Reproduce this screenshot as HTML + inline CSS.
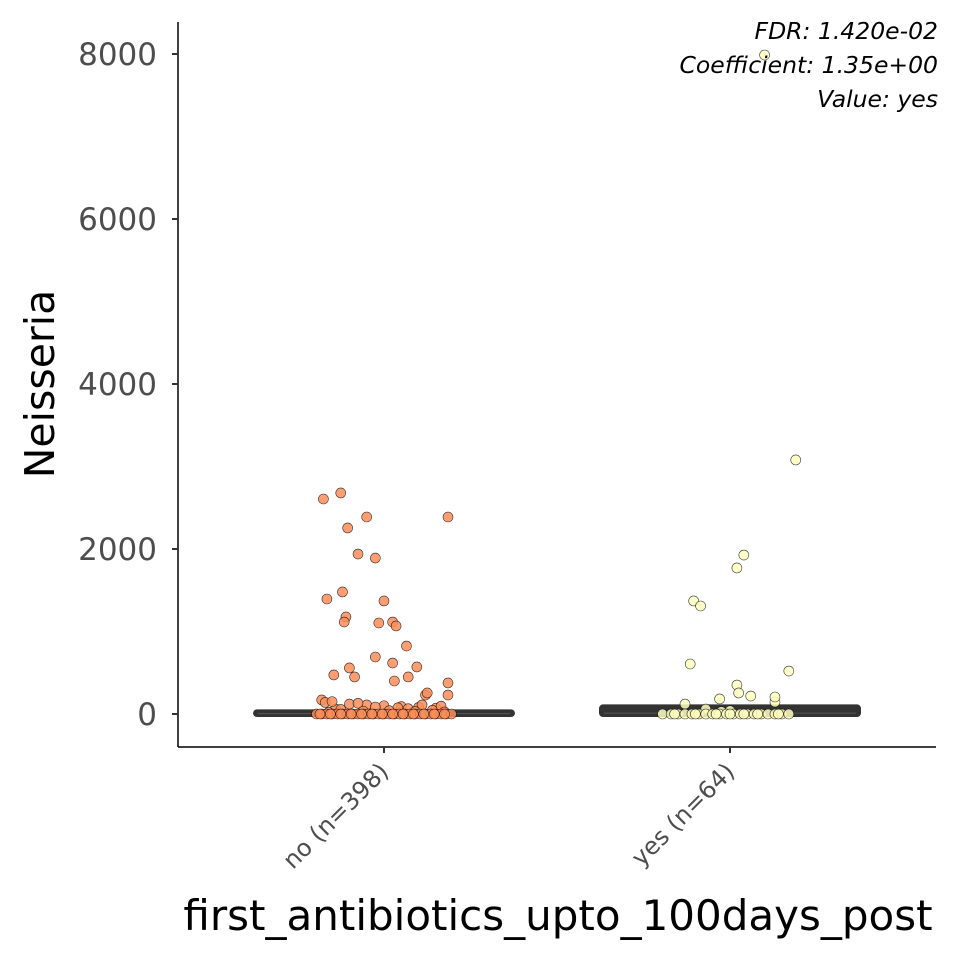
<!DOCTYPE html>
<html><head><meta charset="utf-8"><style>
html,body{margin:0;padding:0;background:#fff;}
svg{display:block;font-family:"DejaVu Sans","Liberation Sans",sans-serif;}
</style></head><body>
<svg id="chart" width="960" height="960" viewBox="0 0 960 960" xmlns="http://www.w3.org/2000/svg">
<rect width="960" height="960" fill="#fff"/>
<g id="boxes"></g>
<g id="points"></g>
<g id="axes"></g>
<text x="938" y="39" text-anchor="end" font-size="23.5" font-style="italic" fill="#000">FDR: 1.420e-02</text>
<text x="938" y="73" text-anchor="end" font-size="23.5" font-style="italic" fill="#000">Coefficient: 1.35e+00</text>
<text x="938" y="107" text-anchor="end" font-size="23.5" font-style="italic" fill="#000">Value: yes</text>
<text transform="translate(54,384) rotate(-90)" text-anchor="middle" font-size="41" fill="#000">Neisseria</text>
<text x="558" y="930" text-anchor="middle" font-size="42" fill="#000">first_antibiotics_upto_100days_post</text>
</svg>
<script>
const categories = ["no (n=398)", "yes (n=64)"];
const yTicks = [0, 2000, 4000, 6000, 8000];
// box stats: [min, q1, median, q3, max-whisker]
const boxNo = [0, 0, 5, 20, 60];
const boxYes = [0, 0, 10, 80, 180];
const noValues = [2606,2679,2388,2255,2388,1939,1890,1394,1479,1370,1176,1115,1103,1115,1067,824,691,618,558,570,473,449,400,449,376,230,230,255,
 170,140,120,110,100,90,80,70,60,150,130,110,95,85,75,65,55,45,40,35,30,25,20,
 0,0,0,0,0,0,0,0,0,0,0,0,0,0,0,0,0,0,0,0,0,0,0,0,0,0,0,0,0,0,0,0,0,0,0,0,0,0,0,0];
const noJitter = [-0.35,-0.25,-0.1,-0.21,0.37,-0.15,-0.05,-0.33,-0.24,0.0,-0.22,-0.23,-0.03,0.05,0.07,0.13,-0.05,0.05,-0.2,0.19,-0.29,-0.17,0.06,0.14,0.37,0.37,0.24,0.25,
 -0.36,-0.34,-0.2,-0.1,0.0,0.1,0.2,0.3,-0.28,-0.3,-0.15,0.22,0.33,-0.05,0.08,0.14,-0.25,0.28,0.03,-0.12,0.18,0.35,-0.32,
 -0.39,-0.36,-0.33,-0.3,-0.27,-0.24,-0.21,-0.18,-0.15,-0.12,-0.09,-0.06,-0.03,0.0,0.03,0.06,0.09,0.12,0.15,0.18,0.21,0.24,0.27,0.3,0.33,0.36,0.39,
 -0.37,-0.31,-0.25,-0.19,-0.13,-0.07,-0.01,0.05,0.11,0.17,0.23,0.29,0.35];
const yesValues = [7988,3079,1927,1770,1370,1309,606,521,351,255,182,145,218,206,121,60,40,30,
 0,0,0,0,0,0,0,0,0,0,0,0,0,0,0,0,0,0,0,0,0,0,0,0,0,0];
const yesJitter = [0.2,0.38,0.08,0.04,-0.21,-0.17,-0.23,0.34,0.04,0.05,-0.06,0.26,0.12,0.26,-0.26,-0.14,0.0,-0.05,
 -0.39,-0.34,-0.3,-0.26,-0.22,-0.18,-0.14,-0.1,-0.06,-0.02,0.02,0.06,0.1,0.14,0.18,0.22,0.26,0.3,0.34,0.16,-0.08,0.08,-0.32,0.28,0.0,-0.2];

const NS = "http://www.w3.org/2000/svg";
const X0 = 178, X1 = 936, YT = 22, YB = 747;
function yScale(v){ return 714 - v * (165/2000); }
function xScale(i){ return 384 + i * 346; }
const halfBand = 173;
function mk(tag, attrs, parent){
  const e = document.createElementNS(NS, tag);
  for (const k in attrs) e.setAttribute(k, attrs[k]);
  parent.appendChild(e); return e;
}
const axes = document.getElementById('axes');
const boxes = document.getElementById('boxes');
const pts = document.getElementById('points');

[boxNo, boxYes].forEach((b, i) => {
  const cx = xScale(i), w = 130;
  const g = mk('g', {}, boxes);
  
  
  const top = yScale(b[3]), bot = yScale(b[1]);
  const r = mk('rect', {x: cx - w, y: Math.min(top, bot) - 2, width: 2*w, height: Math.abs(bot - top) + 4, rx: 3, fill: '#333', stroke: '#333', 'stroke-width': 2}, g);
  
  
  const m = mk('line', {x1: cx - w + 4, x2: cx + w - 4, y1: yScale(b[2]), y2: yScale(b[2]), stroke: '#555', 'stroke-width': 1}, g);
  
  
});

function drawPts(vals, jit, i, fill, name){
  vals.forEach((v, k) => {
    const c = mk('circle', {cx: xScale(i) + jit[k] * halfBand, cy: yScale(v), r: 5, fill: fill, 'fill-opacity': 0.85, stroke: '#000', 'stroke-width': 0.6, 'stroke-opacity': 0.8}, pts);
    
    
  });
}
drawPts(noValues, noJitter, 0, '#fc8d59', 'point-no');
drawPts(yesValues, yesJitter, 1, '#ffffbf', 'point-yes');

const ya = mk('line', {x1: X0, x2: X0, y1: YT, y2: YB, stroke: '#000', 'stroke-width': 1.5}, axes);


const xa = mk('line', {x1: X0, x2: X1, y1: YB, y2: YB, stroke: '#000', 'stroke-width': 1.5}, axes);


yTicks.forEach(t => {
  const y = yScale(t);
  const tk = mk('line', {x1: X0 - 6, x2: X0, y1: y, y2: y, stroke: '#333', 'stroke-width': 2}, axes);
  
  
  const tx = mk('text', {x: X0 - 21, y: y + 11, 'text-anchor': 'end', 'font-size': 31, fill: '#4d4d4d'}, axes);
  tx.textContent = t;
  
  
});
categories.forEach((c, i) => {
  const x = xScale(i);
  const tk = mk('line', {x1: x, x2: x, y1: YB, y2: YB + 6, stroke: '#333', 'stroke-width': 2}, axes);
  
  
  const tx = mk('text', {transform: 'translate(' + (x + 6) + ',' + (YB + 26) + ') rotate(-45)', 'text-anchor': 'end', 'font-size': 24, fill: '#4d4d4d'}, axes);
  tx.textContent = c;
  
  
});
</script>
</body></html>
